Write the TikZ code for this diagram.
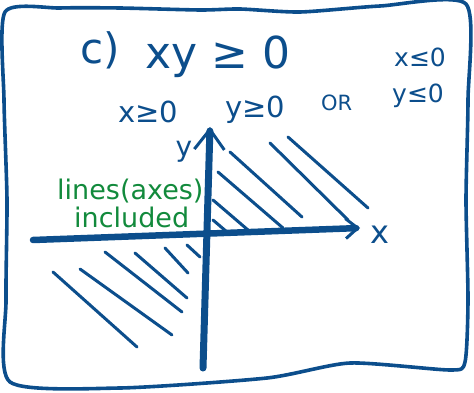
\documentclass[tikz,border=0pt]{standalone}
\usepackage{fontspec}
\setmainfont{DejaVu Sans}
\usepackage{xcolor}
\usepackage{tikz}
\usetikzlibrary{arrows.meta}

\definecolor{ink}{RGB}{12,78,140}
\definecolor{leaf}{RGB}{18,138,60}

\tikzset{
    hand/.style={text=ink, inner sep=0pt},
    note/.style={text=leaf, inner sep=0pt, font=\fontsize{27}{28}\selectfont},
    hatch/.style={draw=ink, line width=3pt, line cap=round},
    axisline/.style={draw=ink, line cap=round}
}

\begin{document}
\begin{tikzpicture}[x=1pt, y=-1pt]
    \useasboundingbox (0,0) rectangle (474,393);

    % Cornice
    \draw[ink, line width=3.6pt, line join=round] plot[smooth cycle, tension=0.4] coordinates {
        (5,12) (60,8) (120,8) (200,10) (240,9) (300,12) (380,6) (466,4)
        (468,100) (466,200) (468,300) (465,362) (450,370) (350,363)
        (267,378) (120,388) (10,382) (6,300) (7,200) (4,100)};

    % Testi
    \node[hand, anchor=base west, font=\fontsize{42}{44}\selectfont] (part) at (80,64) {c)};
    \node[hand, anchor=base west, font=\fontsize{44}{46}\selectfont] (ineq) at (145,69) {xy ≥ 0};
    \node[hand, anchor=base west, font=\fontsize{25}{26}\selectfont] (xneg) at (394,67) {x≤0};
    \node[hand, anchor=base west, font=\fontsize{25}{26}\selectfont] (yneg) at (392,103) {y≤0};
    \node[hand, anchor=base west, font=\fontsize{21}{22}\selectfont] (or) at (321,111) {OR};
    \node[hand, anchor=base west, font=\fontsize{29}{30}\selectfont] (xpos) at (118,123) {x≥0};
    \node[hand, anchor=base west, font=\fontsize{29}{30}\selectfont] (ypos) at (225,118) {y≥0};

    % Assi
    \coordinate (xstart) at (33,240);
    \coordinate (xend) at (360,228);
    \coordinate (ystart) at (203,368);
    \coordinate (yend) at (210,127);
    \draw[axisline, line width=6.5pt, -{Straight Barb[length=12pt, width=20pt, line width=3pt]}] (xstart) -- (xend);
    \draw[axisline, line width=7pt, -{Straight Barb[length=20pt, width=30pt, line width=3pt]}] (ystart) -- (yend);
    \node[hand, anchor=base, font=\fontsize{32}{34}\selectfont] (xlab) at (380,243) {x};
    \node[hand, anchor=base, font=\fontsize{28}{30}\selectfont] (ylab) at (184,157) {y};

    % Tratteggio
    \draw[hatch] (230,152) -- (302,217);
    \draw[hatch] (218,172) -- (283,228);
    \draw[hatch] (213,200) -- (248,230);
    \draw[hatch] (213,220) -- (227,232);
    \draw[hatch] (270,143) -- (348,220);
    \draw[hatch] (288,137) -- (368,208);
    \draw[hatch] (53,272) -- (137,347);
    \draw[hatch] (80,269) -- (172,335);
    \draw[hatch] (105,252) -- (182,312);
    \draw[hatch] (135,253) -- (187,298);
    \draw[hatch] (165,248) -- (188,273);
    \draw[hatch] (187,245) -- (200,257);

    % Nota
    \node[note, anchor=base west] (lines) at (57,200) {lines(axes)};
    \node[note, anchor=base west] (incl) at (74,227) {included};
\end{tikzpicture}
\end{document}
